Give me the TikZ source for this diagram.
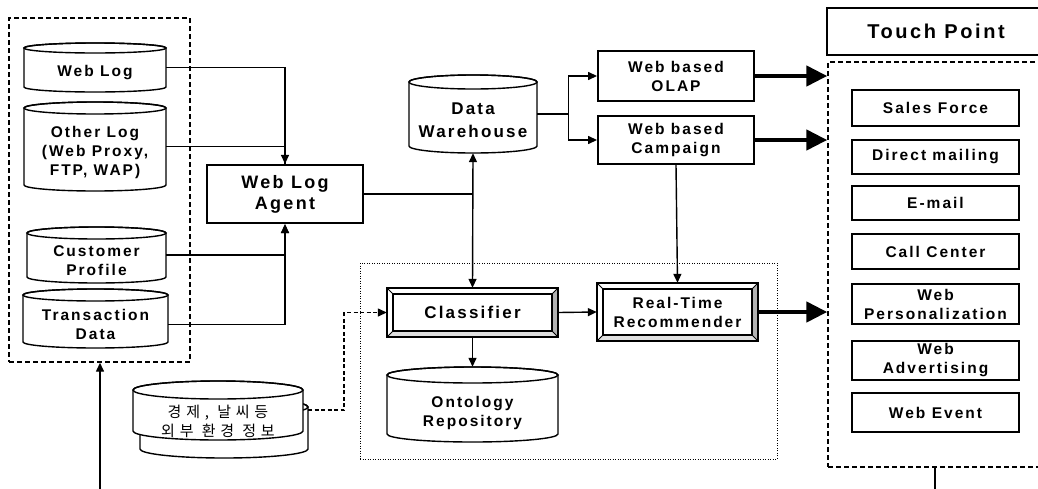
\documentclass[tikz,border=0pt]{standalone}
\usepackage{fontspec}
\setmainfont{Liberation Sans}
\newfontfamily\lblfont{Liberation Sans}[LetterSpace=13]
\newfontfamily\krfont{Noto Sans CJK KR}[LetterSpace=32]
\usetikzlibrary{arrows.meta,calc}

\tikzset{
  every node/.style={font=\lblfont\bfseries\fontsize{15.5}{19}\selectfont,
    align=center, inner sep=0pt},
  big/.style={font=\lblfont\bfseries\fontsize{18}{21}\selectfont},
  mid/.style={font=\lblfont\bfseries\fontsize{17}{23}\selectfont},
  title/.style={font=\lblfont\bfseries\fontsize{20}{24}\selectfont},
  kr/.style={font=\krfont\fontsize{15}{19}\selectfont},
  line/.style={line width=1.4pt},
  cylline/.style={line width=1.4pt},
  arr/.style={line width=1.4pt, -{Triangle[length=9pt,width=8pt]}},
  arrboth/.style={line width=1.4pt, {Triangle[length=9pt,width=8pt]}-{Triangle[length=9pt,width=8pt]}},
  fat/.style={line width=4.5pt, -{Triangle[length=21pt,width=20pt]}},
  dashline/.style={line width=1.4pt, dash pattern=on 4pt off 2.5pt},
  dashbox/.style={draw, line width=1.4pt, dash pattern=on 5pt off 3pt},
  dotbox/.style={draw, line width=1pt, dash pattern=on 1pt off 1.5pt},
  boxed/.style={draw, line width=1.9pt, rectangle},
  area/.style={rectangle},
}

% cylinder outline: [ry]{x1}{y1}{x2}{y2}
\newcommand\dbshape[5][5]{%
  \draw[cylline, fill=white] (#2,{#3+#1}) -- (#2,{#5-#1})
    arc[start angle=180, end angle=0, x radius={(#4-#2)/2}, y radius=#1]
    -- (#4,{#3+#1})
    arc[start angle=0, end angle=-180, x radius={(#4-#2)/2}, y radius=#1] -- cycle;
  \draw[cylline] ({(#2+#4)/2},{#3+#1}) ellipse[x radius={(#4-#2)/2}, y radius=#1];
}
% database: [ry]{name}{x1}{y1}{x2}{y2}{style}
\newcommand\db[7][5]{%
  \dbshape[#1]{#3}{#4}{#5}{#6}
  \node[area, minimum width={(#5-#3)*1pt}, minimum height={(#6-#4)*1pt}]
    (#2) at ({(#3+#5)/2},{(#4+#6)/2}) {};
  \coordinate (#2-t) at ({(#3+#5)/2},{(#4+#6)/2+#1});
}
% bevelled box: {name}{x1}{y1}{x2}{y2}{style}{text}
\newcommand\bevel[7]{%
  \fill[gray!60] (#4,#3) -- (#4,#5) -- ({#4-6},{#5-6}) -- ({#4-6},{#3+6}) -- cycle;
  \fill[gray!25] (#2,#5) -- (#4,#5) -- ({#4-6},{#5-6}) -- ({#2+6},{#5-6}) -- cycle;
  \draw[line width=1.7pt] (#2,#3) rectangle (#4,#5);
  \draw[line width=1.5pt] ({#2+6},{#3+6}) rectangle ({#4-6},{#5-6});
  \draw[line width=0.8pt] (#2,#3) -- ++(6,6) (#4,#3) -- ++(-6,6)
    (#2,#5) -- ++(6,-6) (#4,#5) -- ++(-6,-6);
  \node[area, minimum width={(#4-#2)*1pt}, minimum height={(#5-#3)*1pt}, #6]
    (#1) at ({(#2+#4)/2},{(#3+#5)/2}) {#7};
}

\begin{document}
\begin{tikzpicture}[x=1pt, y=-1pt]
\useasboundingbox (0,0) rectangle (1038,488);
\clip (0,0) rectangle (1038,488);

% ---- source data group
\node[dashbox, minimum width=181pt, minimum height=344pt] (src) at (99.5,190) {};
\db{weblog}{24}{43}{166}{92}{}
\node (weblogtxt) at (weblog-t) {Web Log};
\db[6]{otherlog}{24}{102}{166}{191}{}
\node (otherlogtxt) at (otherlog-t) {Other Log\\(Web Proxy,\\FTP, WAP)};
\db[6]{cust}{27}{227}{166}{283}{}
\node (custtxt) at (cust-t) {Customer\\Profile};
\db[6]{trans}{23}{289}{168}{348}{}
\node (transtxt) at (trans-t) {Transaction\\Data};

% ---- agent
\node[boxed, big, line width=2.3pt, minimum width=156pt, minimum height=58pt]
  (agent) at (285,194) {Web Log\\Agent};

\draw[arr] (weblog.east) -| (agent.north);
\draw[line] (otherlog.east) -| (agent.north);
\draw[arr] (cust.east) -| (agent.south);
\draw[arr] ($(trans.east)+(0,6)$) -| (agent.south);

% ---- warehouse and analysis
\db[7]{dw}{409}{75}{537}{153}{}
\node[mid] (dwtxt) at ($(dw-t)+(0,-1)$) {Data\\Warehouse};
\node[boxed, minimum width=156pt, minimum height=50pt] (olap) at (676,76) {Web based\\OLAP};
\node[boxed, minimum width=156pt, minimum height=48pt] (camp) at (676,140) {Web based\\Campaign};
\draw[arr] (dw.east) -- ++(31,0) |- (olap.west);
\draw[arr] (dw.east) -- ++(31,0) |- (camp.west);

% ---- recommendation engine
\node[dotbox, minimum width=417pt, minimum height=196pt] (engine) at (568.5,361) {};
\bevel{cls}{387}{288}{558}{337}{mid}{Classifier}
\bevel{rec}{597}{283}{758}{341}{}{Real-Time\\Recommender}
\db[8]{onto}{387}{367}{558}{442}{}
\node (ontotxt) at (onto-t) {Ontology\\Repository};

\draw[line] (agent.east) -- (agent.east -| dw.south);
\draw[arrboth] (dw.south) -- (cls.north);
\draw[arr] (cls.east) -- (rec.west);
\draw[arr] (cls.south) -- (onto.north);
\draw[arr] (camp.south) -- (rec.north);

% ---- external information
\dbshape[9]{140}{398}{308}{458}
\db[9]{ext}{133}{381}{303}{440}{}
\node[kr] (exttxt) at ($(ext-t)+(0,2)$) {경제, 날씨등\\외부 환경 정보};
\coordinate (extout) at (308,410);
\draw[dashline, -{Triangle[length=9pt,width=8pt]}] (extout) -- (344,410) |- (cls.west);

% ---- touch points
\node[draw, line width=1.4pt, title, minimum width=218pt, minimum height=47pt]
  (tptitle) at (936,31.5) {Touch Point};
\node[dashbox, minimum width=217pt, minimum height=405pt] (tp) at (936.5,264.5) {};
\begin{scope}[every node/.append style={boxed, minimum width=167pt}]
  \node[minimum height=36pt] (sales) at (935.5,108) {Sales Force};
  \node[minimum height=34pt] (dm) at (935.5,157) {Direct mailing};
  \node[minimum height=34pt] (mail) at (935.5,203) {E-mail};
  \node[minimum height=35pt] (call) at (935.5,251.5) {Call Center};
  \node[minimum height=40pt] (pers) at (935.5,304) {Web\\Personalization};
  \node[minimum height=39pt] (adv) at (935.5,360.5) {Web\\Advertising};
  \node[minimum height=39pt] (event) at (935.5,412.5) {Web Event};
\end{scope}

\draw[fat] (olap.east) -- (olap.east -| tp.west);
\draw[fat] (camp.east) -- (camp.east -| tp.west);
\draw[fat] (rec.east) -- (rec.east -| tp.west);

% ---- feedback paths leaving the figure
\coordinate (tpout) at (935,492);
\coordinate (srcin) at (100,492);
\draw[line] (tp.south -| tpout) -- (tpout);
\draw[arr] (srcin) -- (src.south -| srcin);
\end{tikzpicture}
\end{document}
